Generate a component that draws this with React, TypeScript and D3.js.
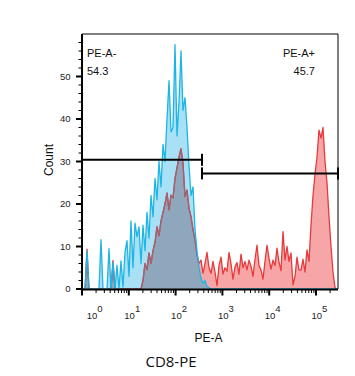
import React from "react";
import * as d3 from "d3";

// Histogram counts per channel (128 log-spaced channels across the PE-A axis)
const BLUE_COUNTS = [
  0, 0, 9.0, 0, 0, 0, 0, 0, 0, 11.6,
  0, 0, 0, 9.5, 0, 6.3, 0, 5.6, 0, 6.6,
  0.5, 8.6, 11.4, 3, 16, 5, 15.5, 12.3, 14.6, 6,
  15, 9, 18, 12, 22, 17, 26, 21, 30, 24,
  34, 30, 40, 49, 37, 38, 57.5, 36, 44, 56,
  42, 45, 38, 29, 22, 24, 14, 9, 5, 2.5,
  1.4, 2, 0.6, 0.3, 0, 0, 0, 0, 0, 0,
  0, 0, 0, 0, 0, 0, 0, 0, 0, 0,
  0, 0, 0, 0, 0, 0, 0, 0, 0, 0,
  0, 0, 0, 0, 0, 0, 0, 0, 0, 0,
  0, 0, 0, 0, 0, 0, 0, 0, 0, 0,
  0, 0, 0, 0, 0, 0, 0, 0, 0, 0,
  0, 0, 0, 0, 0, 0, 0, 0,
];

const RED_COUNTS = [
  0, 0, 9.4, 0, 0, 0, 0, 0, 0, 0,
  0, 0, 0, 0, 0, 6.7, 0, 0, 0, 0,
  0, 0, 0, 0, 0, 0, 0, 0, 0, 0,
  2, 6, 4.5, 8.5, 6, 9, 11, 14.7, 12.5, 16,
  18, 20, 22.6, 18.6, 22, 21.5, 26, 28.5, 31, 33,
  29.5, 21.7, 23.3, 19, 17, 14, 11.5, 8, 6, 6.8,
  3.7, 6, 8.6, 5, 3.7, 6.5, 4, 0.8, 5.5, 7.5,
  3.5, 5, 4.2, 8.6, 6, 2.3, 5.2, 6.2, 3.5, 8.2,
  5, 6.5, 4.5, 6.8, 5.4, 3, 7, 10.3, 5.5, 4.5,
  2.3, 6.5, 10.3, 7.2, 4.7, 6.8, 5.5, 9.6, 6.3, 4.3,
  13.5, 6.8, 10, 6.5, 8.5, 1, 3, 7.5, 4.5, 4.5,
  7, 4, 9.2, 6.5, 15, 22, 27, 31, 37.4, 35.5,
  38, 30, 25, 17, 10, 4, 0.3, 0,
];

const X_DECADES = [0, 1, 2, 3, 4, 5];
const Y_MAJOR_TICKS = [0, 10, 20, 30, 40, 50];
const X_MAX = 295000;
const Y_MAX = 60;

const GATE_NAMES = ["PE-A-", "PE-A+"];
const GATE_PCTS = ["54.3", "45.7"];
const GATE_X0 = [1, 366];
const GATE_X1 = [366, 295000];
const GATE_LEVEL = [30.4, 27.2];

const W = 355;
const H = 376;
const PLOT = { left: 82, right: 338, top: 34, bottom: 289 };

export default function App() {
  const x = d3.scaleLog().domain([1, X_MAX]).range([PLOT.left, PLOT.right]);
  const y = d3.scaleLinear().domain([0, Y_MAX]).range([PLOT.bottom, PLOT.top]);
  const n = BLUE_COUNTS.length;
  const logMax = Math.log10(X_MAX);
  const center = (i: number) => Math.pow(10, ((i + 0.5) * logMax) / n);

  const area = d3
    .area<number>()
    .x((_, i) => x(center(i)))
    .y0(y(0))
    .y1((d) => y(d));
  const line = d3
    .line<number>()
    .x((_, i) => x(center(i)))
    .y((d) => y(d));

  const blueArea = area(BLUE_COUNTS) || "";
  const redArea = area(RED_COUNTS) || "";
  const blueLine = line(BLUE_COUNTS) || "";
  const redLine = line(RED_COUNTS) || "";

  const xTicks: { v: number; major: boolean }[] = [];
  X_DECADES.forEach((d) => {
    for (let m = 1; m <= 9; m++) {
      const v = m * Math.pow(10, d);
      if (v <= X_MAX) xTicks.push({ v, major: m === 1 });
    }
  });
  const yMinor = d3.range(0, Y_MAX, 2).filter((v) => v % 10 !== 0);

  const font = "'Liberation Sans', Arial, sans-serif";

  return (
    <div style={{ position: "absolute", left: 0, top: 0 }}>
      <svg width={W} height={H} style={{ display: "block", background: "#fff" }}>
        <defs>
          <clipPath id="redClip">
            <path d={redArea} />
          </clipPath>
          <clipPath id="blueClip">
            <path d={blueArea} />
          </clipPath>
        </defs>

        {/* histograms */}
        <path d={redArea} fill="#f6a6a6" />
        <path d={blueArea} fill="#1ab0e6" fillOpacity={0.38} />
        <path d={blueArea} fill="#8fa7bd" clipPath="url(#redClip)" />
        <path d={redLine} fill="none" stroke="#e8393b" strokeWidth={1.3} strokeLinejoin="round" />
        <path d={redLine} fill="none" stroke="#9a6577" strokeWidth={1.3} clipPath="url(#blueClip)" />
        <path d={blueLine} fill="none" stroke="#1cb5e5" strokeWidth={1.3} strokeLinejoin="round" />

        {/* frame */}
        <line x1={PLOT.left} x2={PLOT.right} y1={PLOT.top} y2={PLOT.top} stroke="#000" strokeWidth={1} />
        <line x1={PLOT.right} x2={PLOT.right} y1={PLOT.top} y2={PLOT.bottom} stroke="#000" strokeWidth={1} />
        <line x1={PLOT.left} x2={PLOT.left} y1={PLOT.top} y2={PLOT.bottom + 1} stroke="#000" strokeWidth={2} />
        <line x1={PLOT.left - 1} x2={PLOT.right} y1={PLOT.bottom + 0.5} y2={PLOT.bottom + 0.5} stroke="#000" strokeWidth={2} />

        {/* x ticks */}
        {xTicks.map((t, i) => (
          <line
            key={"xt" + i}
            x1={x(t.v)}
            x2={x(t.v)}
            y1={PLOT.bottom}
            y2={PLOT.bottom + (t.major ? 6.5 : 4)}
            stroke="#000"
            strokeWidth={t.major ? 2 : 1}
          />
        ))}
        {X_DECADES.map((d) => (
          <text
            key={"xl" + d}
            x={x(Math.pow(10, d)) - 4.5 + (d === 0 ? 9.2 : 0)}
            y={319}
            fontFamily={font}
            fontSize={9.5}
            fill="#222"
          >
            10
            <tspan dy={-7.5}>{d}</tspan>
          </text>
        ))}

        {/* y ticks */}
        {Y_MAJOR_TICKS.map((v) => (
          <g key={"yt" + v}>
            <line x1={PLOT.left - 6} x2={PLOT.left} y1={y(v)} y2={y(v)} stroke="#000" strokeWidth={2} />
            <text
              x={70.5}
              y={y(v)}
              dy="0.35em"
              textAnchor="end"
              fontFamily={font}
              fontSize={9.5}
              fill="#222"
            >
              {v}
            </text>
          </g>
        ))}
        {yMinor.map((v) => (
          <line key={"ym" + v} x1={PLOT.left - 3.5} x2={PLOT.left} y1={y(v)} y2={y(v)} stroke="#000" strokeWidth={1} />
        ))}

        {/* gates */}
        {GATE_NAMES.map((g, i) => {
          const gy = y(GATE_LEVEL[i]);
          const x0 = x(GATE_X0[i]);
          const x1 = x(GATE_X1[i]);
          return (
            <g key={"g" + i}>
              <line x1={x0} x2={x1} y1={gy} y2={gy} stroke="#000" strokeWidth={2} />
              {i > 0 && <line x1={x0} x2={x0} y1={gy - 6} y2={gy + 6} stroke="#000" strokeWidth={2} />}
              <line x1={x1} x2={x1} y1={gy - 6} y2={gy + 6} stroke="#000" strokeWidth={2} />
            </g>
          );
        })}

        {/* gate labels */}
        <text x={87} y={57} fontFamily={font} fontSize={11} fill="#111">
          {GATE_NAMES[0]}
        </text>
        <text x={87} y={75} fontFamily={font} fontSize={11} fill="#111">
          {GATE_PCTS[0]}
        </text>
        <text x={315} y={57} textAnchor="end" fontFamily={font} fontSize={11} fill="#111">
          {GATE_NAMES[1]}
        </text>
        <text x={315} y={75} textAnchor="end" fontFamily={font} fontSize={11} fill="#111">
          {GATE_PCTS[1]}
        </text>

        {/* axis titles */}
        <text
          transform="translate(53,160) rotate(-90)"
          textAnchor="middle"
          fontFamily={font}
          fontSize={12}
          fill="#111"
        >
          Count
        </text>
        <text x={208.5} y={342} textAnchor="middle" fontFamily={font} fontSize={12} fill="#111">
          PE-A
        </text>
        <text x={171} y={366.5} textAnchor="middle" fontFamily="'Open Sans', 'Noto Sans', sans-serif" fontSize={15} fill="#111">
          CD8-PE
        </text>
      </svg>
    </div>
  );
}
